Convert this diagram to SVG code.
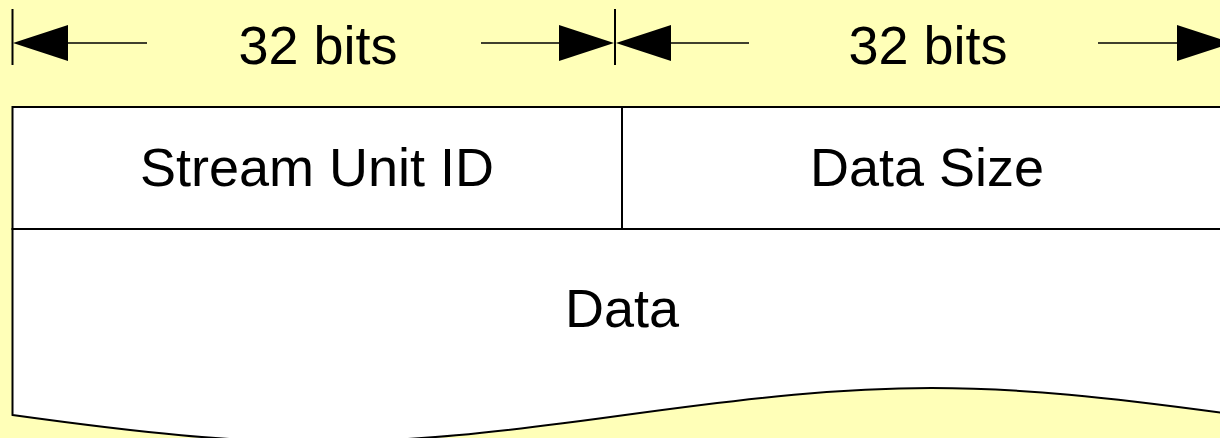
<svg xmlns="http://www.w3.org/2000/svg" width="1220" height="438" viewBox="0 0 1220 438">
  <style>
    .bg { fill: #FFFFB8; }
    .cell { fill: #FFFFFF; stroke: #000000; stroke-width: 2; }
    .rule { fill: none; stroke: #000000; stroke-width: 2; }
    .dim { fill: none; stroke: #000000; stroke-width: 1.6; }
    .tick { fill: none; stroke: #000000; stroke-width: 2; }
    .head { fill: #000000; stroke: none; }
    .label { font-family: "Liberation Sans", Arial, sans-serif; font-size: 54px; fill: #000000; text-anchor: middle; }
  </style>

  <rect class="bg" x="0" y="0" width="1220" height="438"/>

  <!-- dimension arrows: two 32-bit fields -->
  <g id="connectors">
    <line class="tick" x1="12.5" y1="9" x2="12.5" y2="65"/>
    <line class="tick" x1="615" y1="9" x2="615" y2="65"/>
    <line class="tick" x1="1232" y1="9" x2="1232" y2="65"/>

    <line class="dim" x1="66" y1="43" x2="147" y2="43"/>
    <line class="dim" x1="481" y1="43" x2="561" y2="43"/>
    <line class="dim" x1="669" y1="43" x2="749" y2="43"/>
    <line class="dim" x1="1098" y1="43" x2="1179" y2="43"/>

    <polygon class="head" points="13,43 68,25 68,61"/>
    <polygon class="head" points="614,43 559,25 559,61"/>
    <polygon class="head" points="616,43 671,25 671,61"/>
    <polygon class="head" points="1232,43 1177,25 1177,61"/>
  </g>

  <g id="dim-label-1">
    <text class="label" x="318" y="64">32 bits</text>
  </g>
  <g id="dim-label-2">
    <text class="label" x="928" y="64">32 bits</text>
  </g>

  <!-- payload area with a torn (wavy) lower edge -->
  <g id="data">
    <path class="cell" d="M12.5,229 L12.5,415 C272,451 365,451 625,415 S978,379 1238,415 L1238,229 Z"/>
    <text class="label" x="622" y="327">Data</text>
  </g>

  <g id="stream-unit-id">
    <rect class="cell" x="12.5" y="107" width="609.5" height="122"/>
    <text class="label" x="317" y="186">Stream Unit ID</text>
  </g>

  <g id="data-size">
    <rect class="cell" x="622" y="107" width="616" height="122"/>
    <text class="label" x="927" y="186">Data Size</text>
  </g>
</svg>
